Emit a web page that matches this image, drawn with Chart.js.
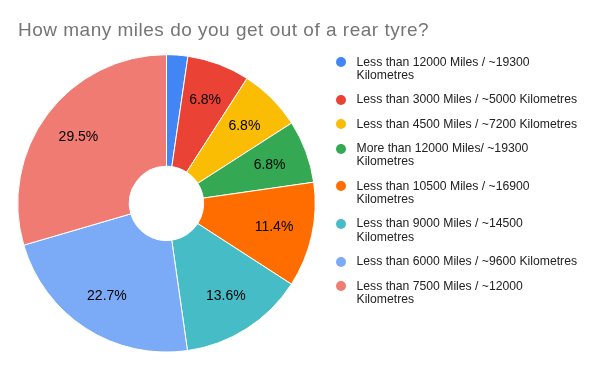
<!DOCTYPE html>
<html>
<head>
<meta charset="utf-8">
<script src="https://cdn.jsdelivr.net/npm/chart.js@4"></script>
<style>
  body { margin: 0; background: #fff; }
  #wrap { position: relative; width: 600px; height: 371px; overflow: hidden; }
  #title {
    position: absolute; left: 18px; top: 19.6px;
    font-family: "Liberation Sans", Arial, sans-serif;
    font-size: 19px; line-height: 19px; letter-spacing: 0.5px;
    color: #757575; white-space: nowrap;
  }
  #legend {
    position: absolute; left: 335.5px; top: 55.5px; width: 245px;
    margin: 0; padding: 0; list-style: none;
    font-family: "Liberation Sans", Arial, sans-serif;
    font-size: 12.2px; line-height: 13.5px; color: #222;
  }
  #legend li { position: relative; padding-left: 21px; margin-bottom: 10.8px; }
  #legend li span.dot {
    position: absolute; left: 0.5px; top: 1.8px;
    width: 10px; height: 10px; border-radius: 50%;
  }
</style>
</head>
<body>
<div id="wrap">
  <canvas id="pieChart" width="600" height="371"></canvas>
  <div id="title">How many miles do you get out of a rear tyre?</div>
  <ul id="legend"></ul>
</div>
<script>
// kategori dan nilai (persen) dari gambar
const categories = [
  "Less than 12000 Miles / ~19300 Kilometres",
  "Less than 3000 Miles / ~5000 Kilometres",
  "Less than 4500 Miles / ~7200 Kilometres",
  "More than 12000 Miles/ ~19300 Kilometres",
  "Less than 10500 Miles / ~16900 Kilometres",
  "Less than 9000 Miles / ~14500 Kilometres",
  "Less than 6000 Miles / ~9600 Kilometres",
  "Less than 7500 Miles / ~12000 Kilometres",
];
const percents = [2.3, 6.8, 6.8, 6.8, 11.4, 13.6, 22.7, 29.5];
const sliceColors = [
  "#4285f4", "#ea4335", "#fbbc04", "#34a853",
  "#ff6d01", "#46bdc6", "#7baaf7", "#f07b72",
];

// label persen di dalam irisan
const sliceLabels = {
  id: "sliceLabels",
  afterDatasetsDraw(chart) {
    const ctx = chart.ctx;
    const meta = chart.getDatasetMeta(0);
    ctx.save();
    ctx.font = '14px "Liberation Sans", Arial, sans-serif';
    ctx.fillStyle = "#000";
    ctx.textAlign = "center";
    ctx.textBaseline = "middle";
    meta.data.forEach((arc, i) => {
      const v = percents[i];
      if (v < 5) return; // irisan kecil tanpa label
      const mid = (arc.startAngle + arc.endAngle) / 2;
      const r = arc.outerRadius * 0.74;
      ctx.fillText(v.toFixed(1) + "%", arc.x + Math.cos(mid) * r, arc.y + Math.sin(mid) * r);
    });
    ctx.restore();
  },
};

const ctx = document.getElementById("pieChart").getContext("2d");
new Chart(ctx, {
  type: "doughnut",
  data: {
    labels: categories,
    datasets: [
      {
        data: percents,
        backgroundColor: sliceColors,
        borderColor: "#ffffff",
        borderWidth: 1,
        hoverOffset: 0,
      },
    ],
  },
  options: {
    responsive: false,
    animation: false,
    cutout: "25%",
    layout: {
      padding: { left: 17.3, right: 284.3, top: 54.2, bottom: 18.4 },
    },
    plugins: {
      legend: { display: false },
      tooltip: { enabled: false },
    },
  },
  plugins: [sliceLabels],
});

// legend HTML
const legendEl = document.getElementById("legend");
categories.forEach((label, i) => {
  const li = document.createElement("li");
  const dot = document.createElement("span");
  dot.className = "dot";
  dot.style.background = sliceColors[i];
  li.appendChild(dot);
  li.appendChild(document.createTextNode(label));
  legendEl.appendChild(li);
});
</script>
</body>
</html>
